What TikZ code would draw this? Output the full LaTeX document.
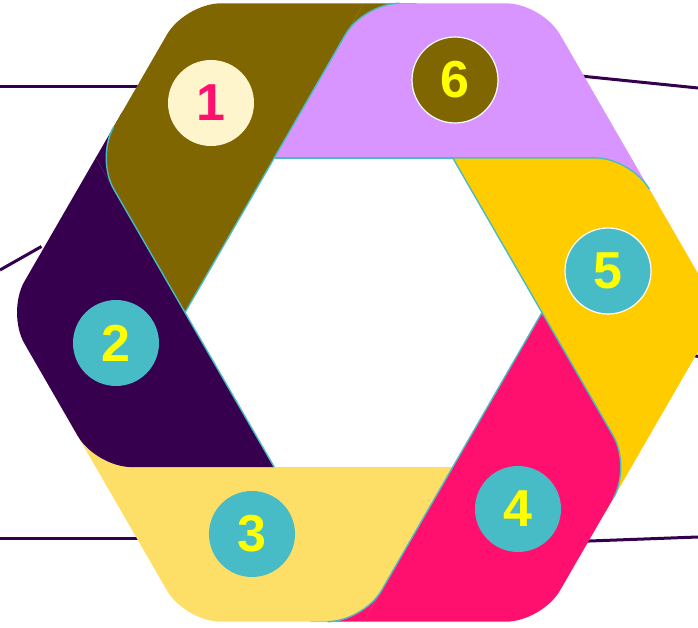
\documentclass[tikz,border=0pt]{standalone}
\usepackage{fontspec}
\setmainfont{Liberation Sans}
\usetikzlibrary{calc}

\definecolor{olivebar}{HTML}{7F6600}
\definecolor{lilacbar}{HTML}{D894FF}
\definecolor{goldbar}{HTML}{FFCC00}
\definecolor{pinkbar}{HTML}{FF0F6E}
\definecolor{sandbar}{HTML}{FDDE67}
\definecolor{plumbar}{HTML}{37004F}
\definecolor{tealdot}{HTML}{47BCC6}
\definecolor{creamdot}{HTML}{FFF5CC}
\definecolor{digit}{HTML}{FFFF00}
\definecolor{leadline}{HTML}{33004D}

\begin{document}
\begin{tikzpicture}[x=1pt, y=1pt,
    seg/.style={rounded corners=36pt},
    rim/.style={draw=tealdot, line width=1.4pt},
    lead/.style={draw=leadline, line width=3pt},
    badge/.style={circle, minimum size=86pt, inner sep=0pt, text=digit,
      font=\fontsize{52}{52}\selectfont\bfseries}]
  \useasboundingbox (-363.5,-315.5) rectangle (334.5,312.5);
  \clip (-363.5,-315.5) rectangle (334.5,312.5);

  % outer corners, outer edge middles, inner corners
  \coordinate (vr) at (0:357);   \coordinate (vtr) at (60:357);  \coordinate (vtl) at (120:357);
  \coordinate (vl) at (180:357); \coordinate (vbl) at (240:357); \coordinate (vbr) at (300:357);
  \coordinate (mur) at (30:309.2);  \coordinate (mt) at (90:309.2);  \coordinate (mul) at (150:309.2);
  \coordinate (mll) at (210:309.2); \coordinate (mb) at (270:309.2); \coordinate (mlr) at (330:309.2);
  \coordinate (ir) at (0:178.5);   \coordinate (itr) at (60:178.5);  \coordinate (itl) at (120:178.5);
  \coordinate (il) at (180:178.5); \coordinate (ibl) at (240:178.5); \coordinate (ibr) at (300:178.5);

  % lead lines, under the ring
  \coordinate (a1) at (-363.5,225.5);  \coordinate (b1) at (-225,225.5);
  \coordinate (a2) at (-363.5,42.5);   \coordinate (b2) at (-322,66);
  \coordinate (a3) at (-363.5,-225.5); \coordinate (b3) at (-225,-225.5);
  \coordinate (a4) at (334.5,224.5);   \coordinate (b4) at (212,237);
  \coordinate (a5) at (334.5,-44);     \coordinate (b5) at (326,-42);
  \coordinate (a6) at (334.5,-224.5);  \coordinate (b6) at (218,-228.8);
  \draw[lead] (a1) -- (b1);
  \draw[lead] (a2) -- (b2);
  \draw[lead] (a3) -- (b3);
  \draw[lead] (a4) -- (b4);
  \draw[lead] (a5) -- (b5);
  \draw[lead] (a6) -- (b6);

  % fillers behind the rounded inner joints
  \fill[olivebar] (mt) -- ($(mt)!.3!(vtr)$) -- ($(mt)!.3!(itl)$) -- cycle;
  \fill[lilacbar] (mur) -- ($(mur)!.3!(vr)$) -- ($(mur)!.3!(itr)$) -- cycle;
  \fill[goldbar] (mlr) -- ($(mlr)!.3!(vbr)$) -- ($(mlr)!.3!(ir)$) -- cycle;
  \fill[pinkbar] (mb) -- ($(mb)!.3!(vbl)$) -- ($(mb)!.3!(ibr)$) -- cycle;
  \fill[sandbar] (mll) -- ($(mll)!.3!(vl)$) -- ($(mll)!.3!(ibl)$) -- cycle;
  \fill[plumbar] (mul) -- ($(mul)!.3!(vtl)$) -- ($(mul)!.3!(il)$) -- cycle;

  % the six bars
  \fill[olivebar] (il) -- (mt) -- ($(mt)!.5!(vtl)$) [seg] -- (vtl) -- (mul) -- ($(mul)!.5!(il)$) [sharp corners] -- cycle;
  \fill[lilacbar] (itl) -- (mur) -- ($(mur)!.5!(vtr)$) [seg] -- (vtr) -- (mt) -- ($(mt)!.5!(itl)$) [sharp corners] -- cycle;
  \fill[goldbar] (itr) -- (mlr) -- ($(mlr)!.5!(vr)$) [seg] -- (vr) -- (mur) -- ($(mur)!.5!(itr)$) [sharp corners] -- cycle;
  \fill[pinkbar] (ir) -- (mb) -- ($(mb)!.5!(vbr)$) [seg] -- (vbr) -- (mlr) -- ($(mlr)!.5!(ir)$) [sharp corners] -- cycle;
  \fill[sandbar] (ibr) -- (mll) -- ($(mll)!.5!(vbl)$) [seg] -- (vbl) -- (mb) -- ($(mb)!.5!(ibr)$) [sharp corners] -- cycle;
  \fill[plumbar] (ibl) -- (mul) -- ($(mul)!.5!(vl)$) [seg] -- (vl) -- (mll) -- ($(mll)!.5!(ibl)$) [sharp corners] -- cycle;

  % teal rims
  \draw[rim, seg] ($(mul)!36pt!(vtl)$) -- (mul) -- (il);
  \draw[rim] (il) -- (itl);
  \draw[rim, seg] ($(mt)!36pt!(vtr)$) -- (mt) -- (itl);
  \draw[rim] (itl) -- (itr);
  \draw[rim, seg] ($(mur)!36pt!(vr)$) -- (mur) -- (itr);
  \draw[rim] (itr) -- (ir);
  \draw[rim, seg] ($(mlr)!36pt!(vbr)$) -- (mlr) -- (ir);
  \draw[rim] (ir) -- (ibr);
  \draw[rim, seg] ($(mb)!36pt!(vbl)$) -- (mb) -- (ibr);
  \draw[rim] (ibl) -- (il);

  % numbered badges
  \node[badge, fill=creamdot, text=pinkbar] (n1) at (-152.5,209.5) {1};
  \node[badge, fill=tealdot] (n2) at (-247.5,-30.5) {2};
  \node[badge, fill=tealdot] (n3) at (-111.5,-221.5) {3};
  \node[badge, fill=tealdot] (n4) at (154.5,-196.5) {4};
  \node[badge, fill=tealdot, draw=white, line width=1.2pt] (n5) at (244.5,41.5) {5};
  \node[badge, fill=olivebar, draw=white, line width=1.2pt] (n6) at (91.5,232.5) {6};
\end{tikzpicture}
\end{document}
